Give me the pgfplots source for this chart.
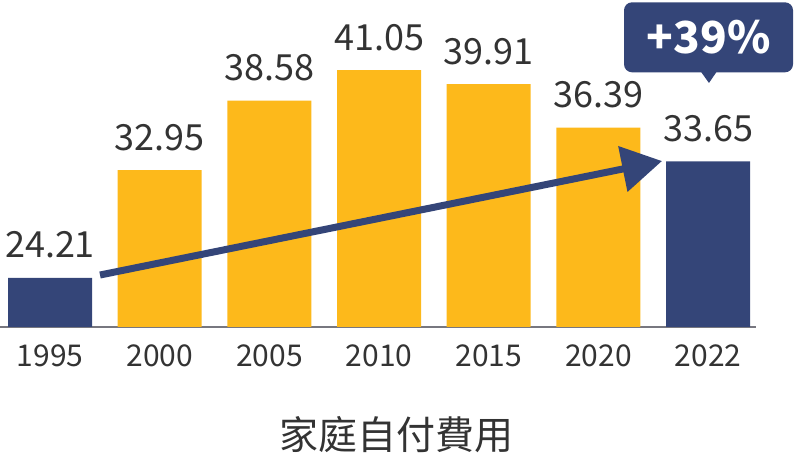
\documentclass[border=0pt]{standalone}
\usepackage{fontspec}
\setmainfont{Noto Sans CJK TC}
\usepackage{pgfplots}
\pgfplotsset{compat=1.18}
\usetikzlibrary{arrows.meta}
\definecolor{navy}{HTML}{344578}
\definecolor{gold}{HTML}{FDB91B}
\definecolor{txt}{HTML}{333333}
\definecolor{axgray}{HTML}{77777F}
\pgfplotsset{/pgf/number format/assume math mode=true}
\begin{document}
\begin{tikzpicture}[x=1pt,y=1pt]
\begin{axis}[
  at={(0,0)}, anchor=south west,
  scale only axis, width=756pt, height=325pt,
  xmin=-0.456, xmax=6.437, ymin=20.24, ymax=46.56,
  clip mode=individual,
  axis x line*=bottom, axis y line=none,
  x axis line style={draw=axgray, line width=2pt, -},
  xtick={0,...,6}, xticklabels={1995,2000,2005,2010,2015,2020,2022},
  major tick length=0pt, tick style={draw=none},
  xticklabel style={font=\fontsize{30}{30}\selectfont, text=txt, anchor=base, yshift=-40pt, inner sep=0pt},
  nodes near coords={\pgfmathprintnumber[fixed,zerofill,precision=2]{\pgfplotspointmeta}},
  every node near coord/.append style={font=\fontsize{36}{36}\selectfont, text=txt, anchor=base, yshift=20pt, inner sep=0pt},
]
\addplot[ybar, bar width=84pt, bar shift=0pt, fill=gold, draw=none, nodes near coords align={anchor=base}]
  coordinates {(1,32.95) (2,38.58) (3,41.05) (4,39.91) (5,36.39)};
\addplot[ybar, bar width=84pt, bar shift=0pt, fill=navy, draw=none, nodes near coords align={anchor=base}]
  coordinates {(0,24.21) (6,33.65)};
\addplot[navy, line width=7pt, -{Triangle[length=40pt, width=45pt]}, nodes near coords={}, mark=none]
  coordinates {(0.456,24.45) (5.58,33.68)};
\node[fill=navy, rounded corners=8pt, minimum width=169pt, minimum height=70pt, inner sep=0pt,
      text=white, font=\bfseries\fontsize{44}{44}\selectfont] at (axis cs:6.004,43.7) {+39\%};
\fill[navy] (axis cs:5.904,41.3) -- (axis cs:6.108,41.3) -- (axis cs:6.008,40.0) -- cycle;
\end{axis}
\node[anchor=base, text=txt, font=\fontsize{39}{39}\selectfont, inner sep=0pt] at (396,-123) {家庭自付費用};
\pgfresetboundingbox
\path (0,-135) rectangle (794,327);
\end{tikzpicture}
\end{document}
